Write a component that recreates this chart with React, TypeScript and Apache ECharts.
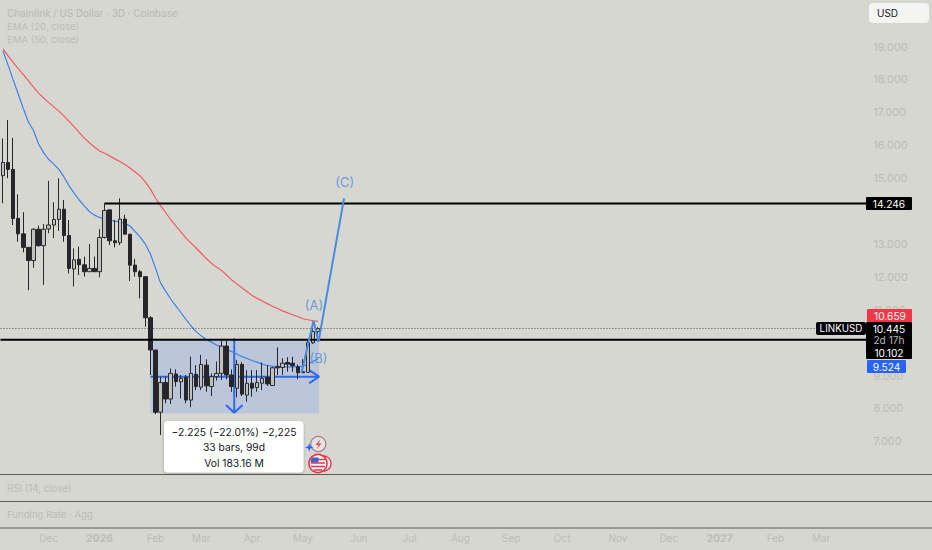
import React, { useEffect, useRef } from "react";
import * as echarts from "echarts";

const BAR_SLOTS = 170;
const tickIndex = [9, 19, 30, 39, 49, 59, 70, 80, 90, 100, 110, 121, 131, 141, 152, 161];
const tickText = ["Dec", "2026", "Feb", "Mar", "Apr", "May", "Jun", "Jul", "Aug", "Sep", "Oct", "Nov", "Dec", "2027", "Feb", "Mar"];
const categories = Array.from({ length: BAR_SLOTS }, (_, i) => {
  const k = tickIndex.indexOf(i);
  return k >= 0 ? tickText[k] : "";
});

const opens = [15.09, 15.49, 15.28, 13.79, 13.32, 12.91, 12.51, 13.46, 12.96, 13.47, 13.59, 13.76, 14.07, 13.27, 12.25, 12.55, 12.38, 12.17, 12.27, 12.17, 13.21, 14.05, 13.11, 13.05, 13.77, 13.31, 12.37, 12.17, 12.02, 10.77, 9.79, 7.9, 8.8, 8.3, 9.06, 8.82, 8.96, 8.27, 9.05, 8.66, 9.33, 8.68, 8.98, 9.08, 9.91, 9.03, 8.63, 9.35, 8.42, 8.78, 8.65, 8.78, 8.96, 8.71, 9.28, 9.26, 9.41, 9.39, 9.28, 9.13, 9.11, 10.01, 10.35];
const closes = [15.49, 15.28, 13.79, 13.32, 12.91, 12.51, 13.46, 12.96, 13.46, 13.59, 13.76, 14.07, 13.27, 12.27, 12.53, 12.38, 12.17, 12.27, 12.17, 13.21, 14.03, 13.11, 13.05, 13.77, 13.31, 12.37, 12.17, 12.02, 10.77, 9.79, 7.9, 8.8, 8.3, 9.08, 8.83, 8.93, 8.27, 9.08, 8.68, 9.35, 8.7, 8.98, 9.08, 9.91, 9.03, 8.68, 9.35, 8.45, 8.78, 8.63, 8.8, 8.93, 8.76, 9.25, 9.25, 9.39, 9.36, 9.31, 9.1, 9.1, 10.01, 10.35, 10.445];
const lows = [14.25, 15.01, 13.59, 13.08, 12.76, 11.61, 12.29, 12.93, 11.77, 13.34, 13.19, 13.41, 13.08, 12.12, 11.72, 12.07, 12.02, 12.17, 12.17, 12.0, 13.18, 12.98, 12.91, 12.98, 13.31, 11.89, 12.02, 11.36, 10.5, 9.03, 7.84, 7.21, 8.17, 8.15, 8.68, 8.32, 8.17, 8.05, 8.57, 8.57, 8.52, 8.39, 8.86, 8.88, 8.9, 8.52, 8.35, 8.39, 8.22, 8.37, 8.52, 8.57, 8.7, 8.71, 9.03, 9.03, 9.13, 9.13, 8.9, 9.1, 9.11, 9.97, 10.1];
const highs = [16.22, 16.78, 16.24, 14.52, 13.98, 12.91, 13.49, 13.57, 13.62, 14.93, 14.28, 15.01, 14.35, 13.74, 12.88, 12.93, 12.63, 13.01, 12.63, 13.46, 14.25, 14.05, 13.74, 14.4, 13.9, 13.31, 12.56, 12.22, 12.02, 10.82, 9.79, 8.98, 8.98, 9.23, 9.2, 9.03, 9.03, 9.59, 9.33, 9.64, 9.51, 9.08, 9.44, 10.07, 10.07, 9.2, 9.49, 9.42, 9.18, 9.18, 9.18, 9.41, 9.33, 9.28, 9.87, 9.54, 9.57, 9.59, 9.35, 9.51, 10.09, 10.65, 10.48];
const ema20 = [18.88, 18.45, 18.0, 17.57, 17.13, 16.72, 16.46, 16.05, 15.79, 15.58, 15.44, 15.28, 15.05, 14.78, 14.56, 14.35, 14.17, 14.0, 13.89, 13.82, 13.77, 13.74, 13.71, 13.68, 13.64, 13.56, 13.39, 13.22, 13.01, 12.71, 12.28, 11.83, 11.58, 11.34, 11.13, 10.93, 10.72, 10.52, 10.35, 10.22, 10.11, 10.03, 9.94, 9.88, 9.81, 9.74, 9.67, 9.59, 9.53, 9.47, 9.42, 9.36, 9.32, 9.3, 9.29, 9.28, 9.28, 9.28, 9.28, 9.3, 9.36, 9.44, 9.524];
const ema50 = [18.94, 18.73, 18.53, 18.34, 18.16, 17.98, 17.78, 17.6, 17.45, 17.31, 17.18, 17.05, 16.9, 16.74, 16.58, 16.4, 16.23, 16.09, 15.96, 15.84, 15.77, 15.69, 15.6, 15.52, 15.43, 15.32, 15.2, 15.08, 14.9, 14.68, 14.41, 14.18, 13.97, 13.75, 13.56, 13.38, 13.19, 13.04, 12.89, 12.73, 12.57, 12.43, 12.31, 12.21, 12.07, 11.92, 11.8, 11.68, 11.57, 11.45, 11.36, 11.28, 11.2, 11.12, 11.05, 10.98, 10.92, 10.86, 10.81, 10.74, 10.71, 10.68, 10.659];

const resistance = [[20, 14.246], [169.85, 14.246]];
const support = [[-0.5, 10.102], [169.85, 10.102]];
const lastPrice = [[-0.5, 10.445], [160, 10.445]];
const wave = [[58.74, 9.1], [61.1, 10.68], [62.08, 10.04], [67.1, 14.4]];
const arrowH = [[29, 8.98], [62.2, 8.98], [60.24, 9.18], [62.2, 8.98], [60.24, 8.78]];
const arrowV = [[45.5, 10.15], [45.5, 7.88], [43.87, 8.12], [45.5, 7.88], [47.15, 8.12]];
const box = [[29, 10.102], [62.2, 7.86]];
const waveLabels = [[61.2, 11.16, "(A)"], [62.1, 9.55, "(B)"], [67.25, 14.9, "(C)"]];
const legendTexts = ["Chainlink / US Dollar · 3D · Coinbase", "EMA (20, close)", "EMA (50, close)"];
const tooltipLines = ["−2.225 (−22.01%) −2,225", "33 bars, 99d", "Vol 183.16 M"];
const hiddenTicks = [10, 14];

const FONT = "Inter, 'Noto Sans', sans-serif";
const GHOST = "#bcbdb8";
const BG = "#d6d7d1";

function priceTag(x: number, y: number, w: number, h: number, fill: string, text: string, color = "#fff", tx = x + 23) {
  return [
    { type: "rect", z: 50, shape: { x, y, width: w, height: h, r: 1 }, style: { fill } },
    { type: "text", z: 51, style: { x: tx, y: y + h / 2, text, fill: color, font: `10.2px ${FONT}`, align: "center", verticalAlign: "middle" } },
  ];
}

function graphics() {
  const g: any[] = [];
  legendTexts.forEach((t, i) =>
    g.push({ type: "text", z: 40, style: { x: 7, y: 12.7 + i * 13.4, text: t, fill: GHOST, font: `${i === 0 ? 500 : 400} ${i === 0 ? 9.9 : 9.6}px ${FONT}`, verticalAlign: "middle" } })
  );
  g.push({ type: "rect", z: 50, shape: { x: 869, y: 3, width: 60, height: 20, r: 4 }, style: { fill: "#f4f4f2" } });
  g.push({ type: "text", z: 51, style: { x: 877, y: 13, text: "USD", fill: "#131722", font: `10px ${FONT}`, verticalAlign: "middle" } });
  g.push(...priceTag(866, 197, 46, 13, "#000", "14.246"));
  g.push(...priceTag(867, 309, 45, 13, "#f23645", "10.659"));
  g.push({ type: "rect", z: 50, shape: { x: 866, y: 322, width: 46, height: 37, r: 1 }, style: { fill: "#000" } });
  [["10.445", 328.5, "#fff"], ["2d 17h", 339.5, "#b8b8b8"], ["10.102", 352.7, "#fff"]].forEach(([t, y, c]) =>
    g.push({ type: "text", z: 51, style: { x: 889, y: y as number, text: t as string, fill: c as string, font: `10.2px ${FONT}`, align: "center", verticalAlign: "middle" } })
  );
  g.push(...priceTag(867, 360, 39, 13, "#2962ff", "9.524", "#fff", 886.5));
  g.push({ type: "rect", z: 50, shape: { x: 816, y: 322, width: 50, height: 13, r: 2 }, style: { fill: "#000" } });
  g.push({ type: "text", z: 51, style: { x: 841, y: 328.5, text: "LINKUSD", fill: "#fff", font: `9.8px ${FONT}`, align: "center", verticalAlign: "middle" } });

  // pane separators and pane titles
  [474.5, 501.5, 528].forEach((y) =>
    g.push({ type: "line", z: 30, shape: { x1: 0, y1: y, x2: 932, y2: y }, style: { stroke: "#5c5c5a", lineWidth: 1 } })
  );
  g.push({ type: "text", z: 40, style: { x: 7, y: 488, text: "RSI (14, close)", fill: GHOST, font: `9.7px ${FONT}`, verticalAlign: "middle" } });
  g.push({ type: "text", z: 40, style: { x: 7, y: 514.5, text: "Funding Rate · Agg", fill: GHOST, font: `9.6px ${FONT}`, verticalAlign: "middle" } });

  // measure tooltip
  g.push({ type: "rect", z: 45, shape: { x: 164, y: 421, width: 139.5, height: 51.5, r: 4 }, style: { fill: "#ffffff", shadowBlur: 3, shadowColor: "rgba(0,0,0,0.25)", shadowOffsetY: 1 } });
  tooltipLines.forEach((t, i) =>
    g.push({ type: "text", z: 46, style: { x: 234, y: 431.5 + i * 15.8, text: t, fill: "#131722", font: `10.3px ${FONT}`, align: "center", verticalAlign: "middle" } })
  );

  // event icons
  g.push({ type: "circle", z: 47, shape: { cx: 318.3, cy: 444, r: 7.5 }, style: { fill: "#e4e4e2", stroke: "#a87c88", lineWidth: 1.2 } });
  g.push({ type: "polygon", z: 48, shape: { points: [[320.5, 439], [315.5, 445], [318.5, 445], [316.5, 449.5], [321.5, 443.5], [318.5, 443.5]] }, style: { fill: "#e0455a" } });
  g.push({ type: "polygon", z: 48, shape: { points: [[309.3, 443], [310.4, 446.2], [313.6, 447.3], [310.4, 448.4], [309.3, 451.6], [308.2, 448.4], [305, 447.3], [308.2, 446.2]] }, style: { fill: "#2962ff" } });
  g.push({ type: "circle", z: 47, shape: { cx: 323.5, cy: 463.5, r: 7.5 }, style: { fill: "#f6f6f6", stroke: "#e8344a", lineWidth: 1.4 } });
  g.push({ type: "circle", z: 48, shape: { cx: 318, cy: 463.5, r: 9 }, style: { fill: "#f6f6f6", stroke: "#e8344a", lineWidth: 1.6 } });
  [459.5, 463, 466.5, 470].forEach((y, i) =>
    g.push({ type: "line", z: 49, shape: { x1: 311 + (i === 3 ? 3 : 0), y1: y, x2: 325 - (i === 3 ? 3 : 0), y2: y }, style: { stroke: "#e8344a", lineWidth: 1.5 } })
  );
  g.push({ type: "polygon", z: 50, shape: { points: [[312, 457.5], [318.5, 457.5], [318.5, 462.5], [310.5, 462.5]] }, style: { fill: "#3a66c8" } });
  return g;
}

const hline = (data: number[][], color: string, width: number, type: any = "solid", z = 4) => ({
  type: "line",
  xAxisIndex: 1,
  data,
  symbol: "none",
  clip: false,
  silent: true,
  z,
  lineStyle: { color, width, type },
});

export default function App() {
  const ref = useRef<HTMLDivElement>(null);
  useEffect(() => {
    if (!ref.current) return;
    const chart = echarts.init(ref.current, undefined, { renderer: "svg" });
    chart.setOption({
      animation: false,
      backgroundColor: BG,
      textStyle: { fontFamily: FONT },
      grid: { left: -0.85, top: 0, width: 865.3, height: 474.7 },
      xAxis: [
        {
          type: "category",
          data: categories,
          boundaryGap: true,
          axisLine: { show: false },
          axisTick: { show: false },
          splitLine: { show: false },
          axisLabel: {
            interval: 0,
            margin: 58,
            color: GHOST,
            fontSize: 10,
            fontFamily: FONT,
            formatter: (v: string) => (v === "2026" || v === "2027" ? `{b|${v}}` : v),
            rich: { b: { fontWeight: 700, color: GHOST, fontSize: 10.5, fontFamily: FONT } },
          },
        },
        { type: "value", show: false, min: -0.5, max: BAR_SLOTS - 0.5 },
      ],
      yAxis: {
        type: "value",
        position: "right",
        min: 6,
        max: 20.4286,
        interval: 1,
        axisLine: { show: false },
        axisTick: { show: false },
        splitLine: { show: false },
        axisLabel: {
          margin: 9,
          color: GHOST,
          fontSize: 10.8,
          fontFamily: FONT,
          align: "left",
          formatter: (v: number) => (v >= 7 && v <= 19 && !hiddenTicks.includes(v) ? v.toFixed(3) : ""),
        },
      },
      series: [
        {
          type: "line",
          xAxisIndex: 1,
          data: [],
          symbol: "none",
          z: 1,
          markArea: {
            silent: true,
            itemStyle: { color: "#bcc6da" },
            data: [[{ coord: box[0] }, { coord: box[1] }]],
          },
        },
        hline(arrowH, "#2a6bf0", 2, "solid", 2),
        hline(arrowV, "#2a6bf0", 2, "solid", 2),
        { type: "line", data: ema50, symbol: "none", z: 2, lineStyle: { color: "#ef5a66", width: 1.2 } },
        { type: "line", data: ema20, symbol: "none", z: 2, lineStyle: { color: "#3f81ea", width: 1.2 } },
        hline(lastPrice, "#4a4a48", 1, [1, 2], 2),
        hline(support, "#000000", 2),
        hline(resistance, "#000000", 2),
        {
          type: "candlestick",
          z: 3,
          barWidth: 4,
          data: opens.map((o, i) => [o, closes[i], lows[i], highs[i]]),
          itemStyle: {
            color: "#c0c0bd",
            color0: "#26262a",
            borderColor: "#2b2b2f",
            borderColor0: "#26262a",
            borderWidth: 1,
          },
        },
        hline(wave, "#4a8bde", 2, "solid", 5),
        {
          type: "scatter",
          xAxisIndex: 1,
          z: 6,
          symbolSize: 1,
          itemStyle: { color: "transparent" },
          data: waveLabels.map((d) => ({ value: [d[0], d[1]], name: d[2] })),
          label: {
            show: true,
            position: "inside",
            formatter: "{b}",
            color: "#4f8cd9",
            fontSize: 13,
            fontFamily: FONT,
          },
        },
      ],
      graphic: { elements: graphics() },
    });
    return () => chart.dispose();
  }, []);
  return <div ref={ref} style={{ position: "fixed", left: 0, top: 0, width: 932, height: 550 }} />;
}
